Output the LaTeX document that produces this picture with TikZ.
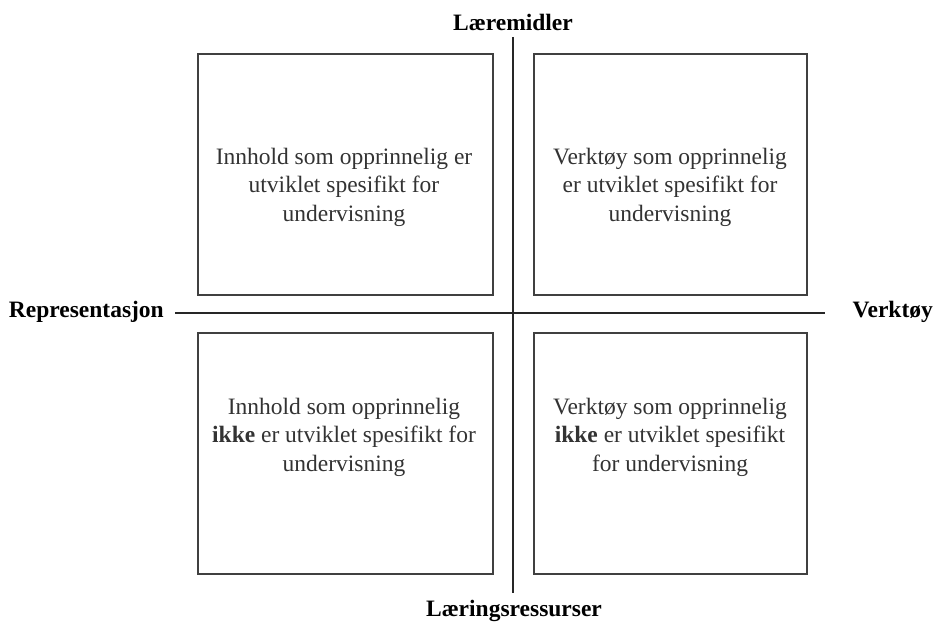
\documentclass[tikz,border=0pt]{standalone}
\usepackage{fontspec}
\setmainfont{Liberation Serif}
\begin{document}
\begin{tikzpicture}[x=1pt,y=-1pt,
  quad/.style={draw=black!75,line width=1.6pt,inner sep=0pt,anchor=north west},
  quadtext/.style={text=black!80,align=center,font=\fontsize{23.5}{28.5}\selectfont},
  axislabel/.style={font=\fontsize{23.5}{28}\selectfont\bfseries,text=black,inner sep=0pt},
  axis/.style={draw=black!85,line width=2.2pt}]
\useasboundingbox (0,0) rectangle (935,626);
% boxes
\node[quad,minimum width=295pt,minimum height=241pt] (tl) at (197,53) {};
\node[quad,minimum width=273pt,minimum height=241pt] (tr) at (533,53) {};
\node[quad,minimum width=295pt,minimum height=241pt] (bl) at (197,332) {};
\node[quad,minimum width=273pt,minimum height=241pt] (br) at (533,332) {};
% box texts
\node[quadtext] (tltext) at (344,187) {Innhold som opprinnelig er\\utviklet spesifikt for\\undervisning};
\node[quadtext] (trtext) at (670,187) {Verktøy som opprinnelig\\er utviklet spesifikt for\\undervisning};
\node[quadtext] (bltext) at (344,437) {Innhold som opprinnelig\\\textbf{ikke} er utviklet spesifikt for\\undervisning};
\node[quadtext] (brtext) at (670,437) {Verktøy som opprinnelig\\\textbf{ikke} er utviklet spesifikt\\for undervisning};
% axis labels
\node[axislabel] (top) at (513,22) {Læremidler};
\node[axislabel] (bottom) at (514,611) {Læringsressurser};
\node[axislabel,anchor=east] (left) at (164,312) {Representasjon};
\node[axislabel,anchor=east] (right) at (933,312) {Verktøy};
% axes
\coordinate (vtop) at (513,37);
\coordinate (vbot) at (513,593);
\coordinate (hleft) at (175,313);
\coordinate (hright) at (825,313);
\draw[axis] (vtop) -- (vbot);
\draw[axis] (hleft) -- (hright);
\end{tikzpicture}
\end{document}
